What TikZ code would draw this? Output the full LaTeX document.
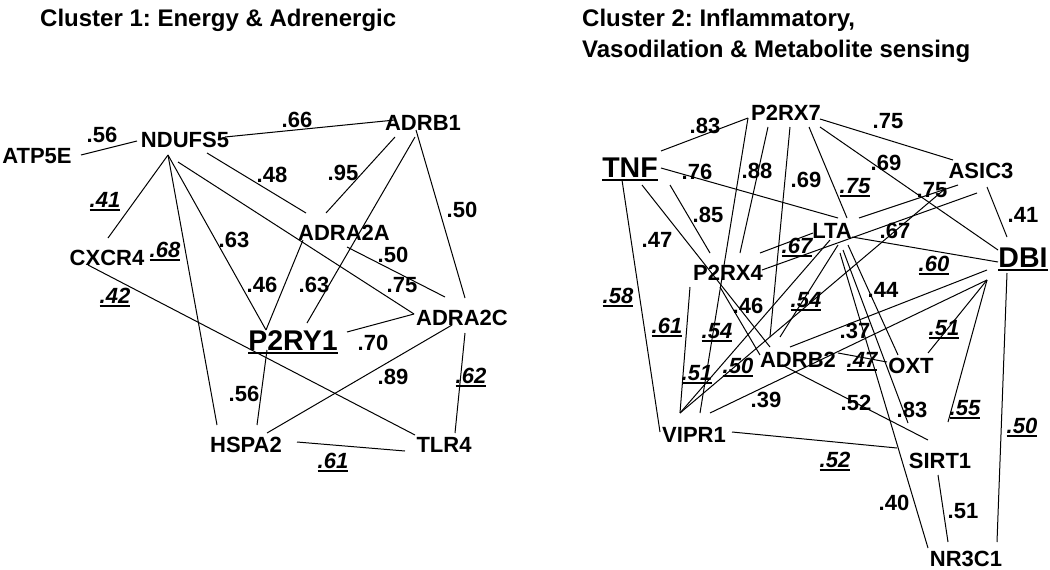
\documentclass[tikz,border=0pt]{standalone}
\usepackage{fontspec}
\setmainfont{Liberation Sans}
\frenchspacing
\newcommand\myul[1]{\setbox0=\hbox{#1}\rlap{\rule[-3.6pt]{\wd0}{1.9pt}}\box0}
\begin{document}
\begin{tikzpicture}[x=1pt,y=-1pt,
  gene/.style={font=\fontsize{22}{26}\selectfont\bfseries, inner sep=0pt, anchor=base},
  biggene/.style={font=\fontsize{28.5}{32}\selectfont\bfseries, inner sep=0pt, anchor=base},
  wt/.style={font=\fontsize{22}{26}\selectfont\bfseries, inner sep=0pt, anchor=base},
  wti/.style={font=\fontsize{22}{26}\selectfont\bfseries\itshape, inner sep=0pt, anchor=base},
  ttl/.style={font=\fontsize{24}{28}\selectfont\bfseries, inner sep=0pt, anchor=base west},
  edge/.style={line width=1pt, black}]
\useasboundingbox (0,0) rectangle (1050,570);
\fill[white] (0,0) rectangle (1050,570);

% titles
\node[ttl] (T1) at (40,27) {Cluster 1: Energy \& Adrenergic};
\node[ttl] (T2) at (582,27) {Cluster 2: Inflammatory,};
\node[ttl] (T3) at (582,57) {Vasodilation \& Metabolite sensing};

% ---------- cluster 1 genes ----------
\node[gene] (ATP5E) at (37,163) {ATP5E};
\node[gene] (NDUFS5) at (185,147) {NDUFS5};
\node[gene] (ADRB1) at (423,130) {ADRB1};
\node[gene] (CXCR4) at (107,265) {CXCR4};
\node[gene] (ADRA2A) at (344,240) {ADRA2A};
\node[biggene] (P2RY1) at (293,350) {\myul{P2RY1}};
\node[gene] (ADRA2C) at (462,325) {ADRA2C};
\node[gene] (HSPA2) at (246,452) {HSPA2};
\node[gene] (TLR4) at (444,452) {TLR4};

% ---------- cluster 2 genes ----------
\node[gene] (P2RX7) at (786,120) {P2RX7};
\node[biggene] (TNF) at (630,177) {\myul{TNF}};
\node[gene] (ASIC3) at (981,178) {ASIC3};
\node[gene] (LTA) at (832,238) {LTA};
\node[biggene] (DBI) at (1023,267) {\myul{DBI}};
\node[gene] (P2RX4) at (728,280) {P2RX4};
\node[gene] (ADRB2) at (798,367) {ADRB2};
\node[gene] (OXT) at (911,373) {OXT};
\node[gene] (VIPR1) at (694,442) {VIPR1};
\node[gene] (SIRT1) at (940,468) {SIRT1};
\node[gene] (NR3C1) at (966,566) {NR3C1};

% ---------- connector ports ----------
\foreach \n/\x/\y in {
  ATP5E-e/81/155, NDUFS5-w/137/141, NDUFS5-e/225/137, ADRB1-w/395/120,
  NDUFS5-s/168/155, CXCR4-n/108/238, HSPA2-nw/217/425, P2RY1-n/266/330,
  NDUFS5-s2/178/162, ADRA2C-w/414/314, NDUFS5-se/207/153, ADRA2A-nw/306/213,
  ADRB1-sw/395/137, ADRA2A-n/326/213, ADRB1-s/415/137, P2RY1-ne/307/323,
  ADRB1-se/416/130, ADRA2C-n/465/298, ADRA2A-se/347/247, ADRA2C-nw/445/297,
  ADRA2A-sw/303/240, CXCR4-s/88/265, TLR4-nw/415/435, P2RY1-e/347/332,
  HSPA2-ne/267/433, ADRA2C-sw/452/325, P2RY1-s/267/350, HSPA2-n/257/425,
  HSPA2-e/297/442, TLR4-w/405/451, ADRA2C-s/465/333, TLR4-n/455/433,
  TNF-ne/661/151, P2RX7-w/748/118, P2RX7-e/820/119, ASIC3-nw/953/160,
  P2RX7-se/820/127, DBI-nw/998/250, ASIC3-s/987/187, DBI-n/1007/237,
  VIPR1-n3/700/413, P2RX7-s1/768/127, P2RX4-n2/740/253, P2RX7-s2/790/127,
  ADRB2-n/770/337, P2RX7-s3/809/127, LTA-n/847/218, TNF-e/661/168,
  LTA-nw/838/218, ASIC3-sw/958/185, LTA-ne/859/218, ASIC3-s2/977/193,
  P2RX4-e/762/270, ASIC3-s3/946/188, VIPR1-n/680/413, TNF-s1/670/185,
  P2RX4-n1/710/253, TNF-s2/642/185, ADRB2-nw/770/347, TNF-s3/622/180,
  VIPR1-w/660/432, LTA-w/813/233, P2RX4-ne/760/253, LTA-e/852/237,
  DBI-w/998/262, P2RX4-s1/720/287, ADRB2-nw2/760/355, P2RX4-s2/690/287,
  LTA-s/838/245, ADRB2-n2/780/337, LTA-sw/830/240, LTA-s2/848/245,
  OXT-n/898/355, LTA-s3/843/250, SIRT1-n/908/423, LTA-s4/840/253,
  NR3C1-n/928/548, DBI-sw/987/270, ADRB2-ne/790/347, DBI-sw2/987/280,
  VIPR1-e/710/413, OXT-ne/928/353, SIRT1-ne/948/422, DBI-s/1007/273,
  NR3C1-e/997/542, ADRB2-e/838/353, OXT-w/887/362, ADRB2-se/782/365,
  SIRT1-nw/928/440, VIPR1-ne/732/432, SIRT1-w/897/448, SIRT1-s/938/475,
  NR3C1-n2/948/542}
  \coordinate (\n) at (\x,\y);

% ---------- connectors ----------
\foreach \a/\b in {
  ATP5E-e/NDUFS5-w, NDUFS5-e/ADRB1-w, NDUFS5-s/CXCR4-n, NDUFS5-s/HSPA2-nw,
  NDUFS5-s/P2RY1-n, NDUFS5-s2/ADRA2C-w, NDUFS5-se/ADRA2A-nw, ADRB1-sw/ADRA2A-n,
  ADRB1-s/P2RY1-ne, ADRB1-se/ADRA2C-n, ADRA2A-se/ADRA2C-nw, ADRA2A-sw/P2RY1-n,
  CXCR4-s/TLR4-nw, P2RY1-e/ADRA2C-w, HSPA2-ne/ADRA2C-sw, P2RY1-s/HSPA2-n,
  HSPA2-e/TLR4-w, ADRA2C-s/TLR4-n,
  TNF-ne/P2RX7-w, P2RX7-e/ASIC3-nw, P2RX7-se/DBI-nw, ASIC3-s/DBI-n,
  P2RX7-w/VIPR1-n3, P2RX7-s1/P2RX4-n2, P2RX7-s2/ADRB2-n, P2RX7-s3/LTA-n,
  TNF-e/LTA-nw, ASIC3-sw/LTA-ne, ASIC3-s2/P2RX4-e, ASIC3-s3/VIPR1-n,
  TNF-s1/P2RX4-n1, TNF-s2/ADRB2-nw, TNF-s3/VIPR1-w, LTA-w/P2RX4-ne,
  LTA-e/DBI-w, P2RX4-s1/ADRB2-nw2, P2RX4-s2/VIPR1-n, LTA-s/ADRB2-n2,
  LTA-sw/VIPR1-n, LTA-s2/OXT-n, LTA-s3/SIRT1-n, LTA-s4/NR3C1-n,
  DBI-sw/ADRB2-ne, DBI-sw2/VIPR1-e, DBI-sw2/OXT-ne, DBI-sw2/SIRT1-ne,
  DBI-s/NR3C1-e, ADRB2-e/OXT-w, ADRB2-se/SIRT1-nw, VIPR1-ne/SIRT1-w,
  SIRT1-s/NR3C1-n2}
  \draw[edge] (\a) -- (\b);

% ---------- cluster 1 weights ----------
\node[wt] (w1) at (102,142) {.56};
\node[wt] (w2) at (297,127) {.66};
\node[wti] (w3) at (105,207) {\myul{.41}};
\node[wti] (w4) at (165,257) {\myul{.68}};
\node[wt] (w5) at (234,247) {.63};
\node[wt] (w6) at (402,292) {.75};
\node[wt] (w7) at (272,182) {.48};
\node[wt] (w8) at (343,180) {.95};
\node[wt] (w9) at (314,292) {.63};
\node[wt] (w10) at (462,217) {.50};
\node[wt] (w11) at (393,262) {.50};
\node[wt] (w12) at (262,292) {.46};
\node[wti] (w13) at (115,303) {\myul{.42}};
\node[wt] (w14) at (373,350) {.70};
\node[wt] (w15) at (393,384) {.89};
\node[wt] (w16) at (244,401) {.56};
\node[wti] (w17) at (333,468) {\myul{.61}};
\node[wti] (w18) at (471,383) {\myul{.62}};

% ---------- cluster 2 weights ----------
\node[wt] (v1) at (705,133) {.83};
\node[wt] (v2) at (888,128) {.75};
\node[wt] (v3) at (886,170) {.69};
\node[wt] (v4) at (1023,222) {.41};
\node[wti] (v5) at (717,338) {\myul{.54}};
\node[wt] (v6) at (757,178) {.88};
\node[wt] (v7) at (806,187) {.69};
\node[wti] (v8) at (855,193) {\myul{.75}};
\node[wt] (v9) at (697,179) {.76};
\node[wt] (v10) at (932,197) {.75};
\node[wt] (v11) at (895,238) {.67};
\node[wti] (v12) at (738,373) {\myul{.50}};
\node[wt] (v13) at (708,222) {.85};
\node[wt] (v14) at (657,247) {.47};
\node[wti] (v15) at (618,303) {\myul{.58}};
\node[wti] (v16) at (797,253) {\myul{.67}};
\node[wti] (v17) at (934,271) {\myul{.60}};
\node[wt] (v18) at (748,313) {.46};
\node[wti] (v19) at (667,333) {\myul{.61}};
\node[wti] (v20) at (806,307) {\myul{.54}};
\node[wti] (v21) at (697,380) {\myul{.51}};
\node[wt] (v22) at (883,297) {.44};
\node[wt] (v23) at (912,417) {.83};
\node[wt] (v24) at (894,510) {.40};
\node[wt] (v25) at (855,338) {.37};
\node[wt] (v26) at (766,407) {.39};
\node[wti] (v27) at (944,335) {\myul{.51}};
\node[wti] (v28) at (965,415) {\myul{.55}};
\node[wti] (v29) at (1022,433) {\myul{.50}};
\node[wti] (v30) at (862,367) {\myul{.47}};
\node[wt] (v31) at (856,410) {.52};
\node[wti] (v32) at (835,467) {\myul{.52}};
\node[wt] (v33) at (963,518) {.51};
\end{tikzpicture}
\end{document}
